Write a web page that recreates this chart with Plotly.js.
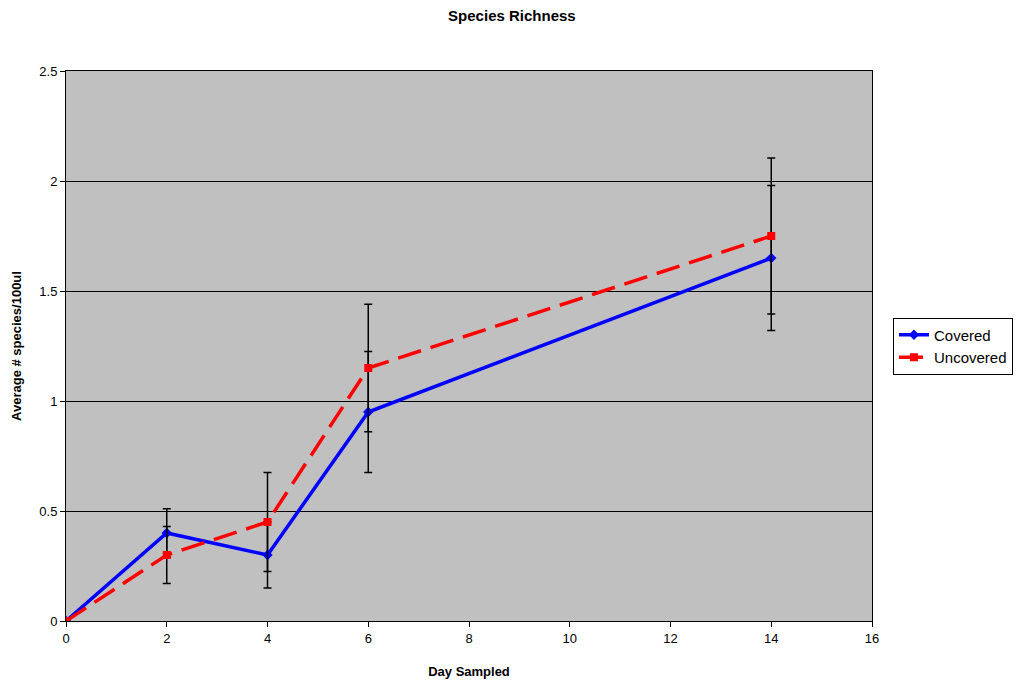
<!DOCTYPE html>
<html>
<head>
<meta charset="utf-8">
<script src="https://cdn.plot.ly/plotly-3.0.1.min.js"></script>
<style>html,body{margin:0;padding:0;background:#fff;}#chart{width:1030px;height:685px;}</style>
</head>
<body>
<div id="chart"></div>
<script>
const days = [0, 2, 4, 6, 14];
const covered = [0, 0.4, 0.3, 0.95, 1.65];
const coveredErr = [0, 0.11, 0.15, 0.275, 0.33];
const uncovered = [0, 0.3, 0.45, 1.15, 1.75];
const uncoveredErr = [0, 0.13, 0.225, 0.29, 0.355];
const xTicks = [0, 2, 4, 6, 8, 10, 12, 14, 16];
const yTicks = [0, 0.5, 1, 1.5, 2, 2.5];
const yTickText = ['0', '0.5', '1', '1.5', '2', '2.5'];

const font = 'Liberation Sans, Arial, sans-serif';

const traces = [
  {
    x: days, y: covered, name: 'Covered', type: 'scatter', mode: 'lines+markers',
    line: {color: '#0000ff', width: 3.5},
    marker: {symbol: 'diamond', size: 8, color: '#0000ff'},
    error_y: {type: 'data', array: coveredErr, visible: true, color: '#000', thickness: 1.5, width: 4}
  },
  {
    x: days, y: uncovered, name: 'Uncovered', type: 'scatter', mode: 'lines+markers',
    line: {color: '#ff0000', width: 3.5, dash: '24px,10px'},
    marker: {symbol: 'square', size: 8, color: '#ff0000'},
    error_y: {type: 'data', array: uncoveredErr, visible: true, color: '#000', thickness: 1.5, width: 4}
  }
];

const layout = {
  width: 1030, height: 685,
  margin: {l: 66, r: 158, t: 71, b: 64},
  paper_bgcolor: '#ffffff',
  plot_bgcolor: '#c0c0c0',
  font: {family: font, size: 13, color: '#000'},
  title: {text: '<b>Species Richness</b>', x: 0.497, xanchor: 'center', y: 0.977, yanchor: 'middle', font: {family: font, size: 15, color: '#000'}},
  xaxis: {
    range: [0, 16], tickvals: xTicks, ticktext: xTicks.map(String),
    showgrid: false, zeroline: false, showline: true, linecolor: '#000', linewidth: 1, mirror: true,
    ticks: 'outside', ticklen: 5, tickcolor: '#000',
    title: {text: '<b>Day Sampled</b>', font: {family: font, size: 13}, standoff: 22}
  },
  yaxis: {
    range: [0, 2.5], tickvals: yTicks, ticktext: yTickText,
    showgrid: true, gridcolor: '#000', gridwidth: 1, zeroline: false,
    showline: true, linecolor: '#000', linewidth: 1, mirror: true,
    ticks: 'outside', ticklen: 5, tickcolor: '#000',
    title: {text: '<b>Average # species/100ul</b>', font: {family: font, size: 13}, standoff: 14}
  },
  showlegend: true,
  legend: {
    x: 1.026, xanchor: 'left', y: 0.5, yanchor: 'middle',
    bordercolor: '#000', borderwidth: 1, bgcolor: '#fff',
    font: {family: font, size: 15}, tracegroupgap: 0, itemwidth: 30,
    entrywidth: 125, entrywidthmode: 'pixels'
  }
};

Plotly.newPlot('chart', traces, layout, {displayModeBar: false, staticPlot: true});
</script>
</body>
</html>
